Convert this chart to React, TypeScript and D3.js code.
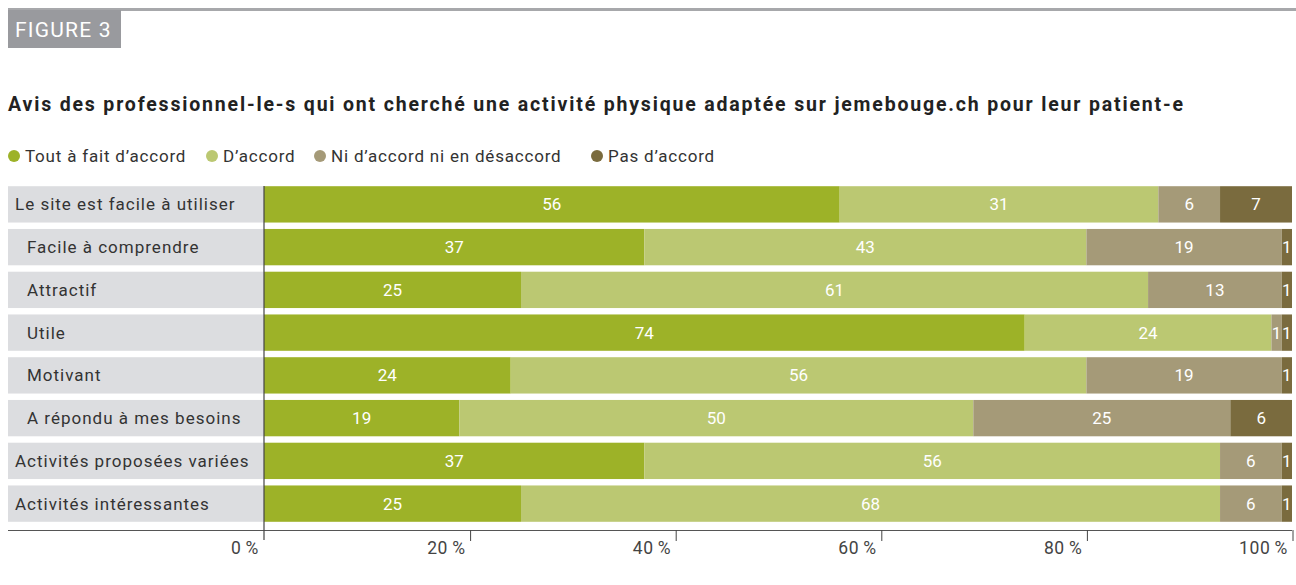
import React, { useEffect, useRef } from 'react';
import * as d3 from 'd3';

const categories = [
  'Le site est facile à utiliser',
  'Facile à comprendre',
  'Attractif',
  'Utile',
  'Motivant',
  'A répondu à mes besoins',
  'Activités proposées variées',
  'Activités intéressantes',
];
const indented = [false, true, true, true, true, true, false, false];

const seriesNames = ['Tout à fait d’accord', 'D’accord', 'Ni d’accord ni en désaccord', 'Pas d’accord'];
const seriesColors = ['#9db228', '#bbc872', '#a59a78', '#7a6b3e'];

const toutAFait = [56, 37, 25, 74, 24, 19, 37, 25];
const dAccord = [31, 43, 61, 24, 56, 50, 56, 68];
const neutre = [6, 19, 13, 1, 19, 25, 6, 6];
const pasDAccord = [7, 1, 1, 1, 1, 6, 1, 1];

const tickValues = [0, 20, 40, 60, 80, 100];

const FONT = "'Roboto', sans-serif";

export default function App() {
  const svgRef = useRef<SVGSVGElement>(null);

  useEffect(() => {
    if (!svgRef.current) return;
    const svg = d3.select(svgRef.current);
    svg.selectAll('*').remove();

    const width = 1296;
    const height = 585;
    svg.attr('width', width).attr('height', height).style('font-family', FONT);

    // header
    svg.append('rect').attr('x', 8).attr('y', 8).attr('width', width - 8).attr('height', 3).attr('fill', '#a7a8ab');
    svg.append('rect').attr('x', 8).attr('y', 10).attr('width', 113).attr('height', 38).attr('fill', '#999a9e');
    svg.append('text').attr('x', 15).attr('y', 37).attr('fill', '#fff').attr('font-size', 21)
      .attr('letter-spacing', 1.2).text('FIGURE 3');

    svg.append('text')
      .attr('x', 8).attr('y', 111)
      .attr('font-size', 19.5).attr('font-weight', 'bold').attr('fill', '#222')
      .attr('textLength', 1175).attr('lengthAdjust', 'spacing')
      .text('Avis des professionnel-le-s qui ont cherché une activité physique adaptée sur jemebouge.ch pour leur patient-e');

    // legend
    const legendX = [14, 212, 320, 597];
    seriesNames.forEach((name, i) => {
      svg.append('circle').attr('cx', legendX[i]).attr('cy', 156).attr('r', 6).attr('fill', seriesColors[i]);
      svg.append('text').attr('x', legendX[i] + 11).attr('y', 162).attr('font-size', 17)
        .attr('letter-spacing', 0.8).attr('fill', '#333').text(name);
    });

    const x = d3.scaleLinear().domain([0, 100]).range([264, 1292]);
    const y = d3.scaleBand().domain(categories).range([183, 525]).paddingInner(0.15).paddingOuter(0.075);

    const rows = categories.map((c, i) => ({
      cat: c,
      values: [toutAFait[i], dAccord[i], neutre[i], pasDAccord[i]],
    }));

    const g = svg.append('g');
    rows.forEach((row, ri) => {
      const yy = y(row.cat)!;
      const bh = y.bandwidth();
      // label background
      g.append('rect').attr('x', 8).attr('y', yy).attr('width', 256).attr('height', bh).attr('fill', '#dcdde0');
      g.append('text')
        .attr('x', indented[ri] ? 27 : 15).attr('y', yy + bh / 2 + 6)
        .attr('font-size', 17).attr('letter-spacing', 1).attr('fill', '#333').text(row.cat);
      let acc = 0;
      row.values.forEach((v, si) => {
        const x0 = x(acc);
        const x1 = x(acc + v);
        g.append('rect').attr('x', x0).attr('y', yy).attr('width', x1 - x0).attr('height', bh).attr('fill', seriesColors[si]);
        g.append('text')
          .attr('x', (x0 + x1) / 2).attr('y', yy + bh / 2 + 6)
          .attr('text-anchor', 'middle').attr('font-size', 17).attr('fill', '#fff')
          .text(v);
        acc += v;
      });
    });

    // axis
    svg.append('line').attr('x1', 8).attr('x2', 1292).attr('y1', 530.5).attr('y2', 530.5).attr('stroke', '#555').attr('stroke-width', 1.2);
    svg.append('line').attr('x1', x(0)).attr('x2', x(0)).attr('y1', 186).attr('y2', 540).attr('stroke', '#444').attr('stroke-width', 1.2);
    tickValues.forEach((t) => {
      const tx = x(t) + (t === 0 ? 0 : 1);
      if (t > 0) svg.append('line').attr('x1', tx).attr('x2', tx).attr('y1', 530).attr('y2', 541).attr('stroke', '#444').attr('stroke-width', 1);
      svg.append('text')
        .attr('x', tx - 5).attr('y', 554)
        .attr('text-anchor', 'end').attr('font-size', 17.5).attr('letter-spacing', 0.6).attr('fill', '#444')
        .text(`${t}\u2009%`);
    });
  }, []);

  return (
    <div style={{ position: 'absolute', left: 0, top: 0 }}>
      <svg ref={svgRef} />
    </div>
  );
}
